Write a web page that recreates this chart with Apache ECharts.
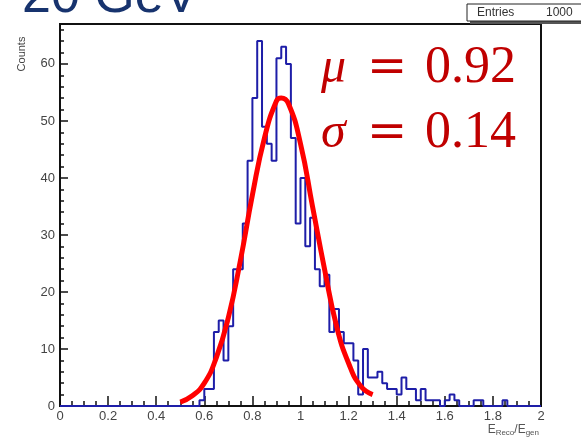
<!DOCTYPE html>
<html>
<head>
<meta charset="utf-8">
<script src="https://cdn.jsdelivr.net/npm/echarts@6/dist/echarts.min.js"></script>
<style>
    html, body { margin: 0; padding: 0; background: #fff; }
    #chart { width: 581px; height: 442px; }
</style>
</head>
<body>
<div id="chart"></div>
<script>
// 直方图: 第一个 bin 从 0.58 开始, bin 宽 0.02
const binStart = 0.58;
const binWidth = 0.02;
const binCounts = [
    1, 3, 3, 13, 15, 8, 14, 24, 24, 32,      // 0.58 - 0.76
    43, 54, 64, 49, 46, 43, 61, 63, 60, 47,  // 0.78 - 0.96
    32, 40, 28, 33, 24, 21, 23, 13, 17, 13,  // 0.98 - 1.16
    11, 11, 8, 2, 10, 5, 5, 6, 4, 3,         // 1.18 - 1.36
    3, 2, 5, 3, 3, 1, 3, 1, 1, 1,            // 1.38 - 1.56
    0, 1, 2, 1, 0, 0, 0, 1, 1, 0,            // 1.58 - 1.76
    0, 0, 0, 1, 0                            // 1.78 - 1.86
];

// 红色拟合曲线 (从图上读出的点)
const fitX = [0.50, 0.55, 0.60, 0.65, 0.70, 0.75, 0.80, 0.85, 0.90, 0.92, 0.95, 1.00, 1.05, 1.10, 1.15, 1.20, 1.25, 1.30];
const fitY = [0.7, 1.8, 4, 8.5, 15.5, 25.5, 37, 47, 53.5, 54, 53, 46, 35, 24, 14, 7.5, 3.5, 2];

const fitMean = '0.92';
const fitSigma = '0.14';
const entries = 1000;

document.addEventListener('DOMContentLoaded', () => {
    const chart = echarts.init(document.getElementById('chart'), null, { renderer: 'canvas' });

    // 阶梯线的点: 每个 bin 的左边缘
    const histData = [[0, 0]];
    binCounts.forEach((c, i) => histData.push([binStart + i * binWidth, c]));
    histData.push([binStart + binCounts.length * binWidth, 0]);
    histData.push([2, 0]);

    const fitData = fitX.map((x, i) => [x, fitY[i]]);

    const labelStyle = {
        color: '#444',
        fontFamily: 'Liberation Sans',
        fontSize: 13
    };

    const option = {
        animation: false,
        backgroundColor: '#fff',
        grid: {
            left: 60,
            right: 40,
            top: 24,
            bottom: 36,
            show: true,
            borderColor: '#111',
            borderWidth: 2
        },
        xAxis: {
            type: 'value',
            min: 0,
            max: 2,
            interval: 0.2,
            axisLine: { lineStyle: { color: '#111', width: 2 } },
            axisTick: { inside: true, length: 10, lineStyle: { color: '#111', width: 1.5 } },
            minorTick: { show: true, splitNumber: 4, length: 5, lineStyle: { color: '#111', width: 1.5 } },
            splitLine: { show: false },
            axisLabel: Object.assign({ margin: 4 }, labelStyle)
        },
        yAxis: {
            type: 'value',
            min: 0,
            max: 67,
            interval: 10,
            axisLine: { lineStyle: { color: '#111', width: 2 } },
            axisTick: { inside: true, length: 8, lineStyle: { color: '#111', width: 1.5 } },
            minorTick: { show: true, splitNumber: 5, length: 4, lineStyle: { color: '#111', width: 1.5 } },
            splitLine: { show: false },
            axisLabel: Object.assign({
                margin: 5,
                showMaxLabel: false,
                formatter: v => (v % 10 === 0 ? String(v) : '')
            }, labelStyle)
        },
        series: [
            {
                name: 'hist',
                type: 'line',
                step: 'end',
                symbol: 'none',
                data: histData,
                lineStyle: { color: '#1e1ea8', width: 2 },
                z: 2
            },
            {
                name: 'fit',
                type: 'line',
                smooth: true,
                symbol: 'none',
                data: fitData,
                lineStyle: { color: '#ff0000', width: 5 },
                z: 3
            }
        ],
        graphic: [
            // 标题 (上半部分被裁掉)
            {
                type: 'text',
                left: 22,
                top: -28,
                style: {
                    text: '20 GeV',
                    fill: '#17336e',
                    font: '52px "Liberation Sans"'
                }
            },
            // 统计框
            {
                type: 'rect',
                shape: { x: 470, y: 7, width: 130, height: 17 },
                style: { fill: '#555' }
            },
            {
                type: 'rect',
                shape: { x: 467, y: 4, width: 130, height: 17 },
                style: { fill: '#fff', stroke: '#222', lineWidth: 1 }
            },
            {
                type: 'text',
                x: 477, y: 13,
                style: { text: 'Entries', fill: '#333', font: '12px "Liberation Sans"', verticalAlign: 'middle' }
            },
            {
                type: 'text',
                x: 546, y: 13,
                style: { text: String(entries), fill: '#333', font: '12px "Liberation Sans"', verticalAlign: 'middle' }
            },
            // y 轴标题
            {
                type: 'text',
                x: 22, y: 54,
                rotation: Math.PI / 2,
                style: {
                    text: 'Counts', fill: '#444', font: '11px "Liberation Sans"',
                    align: 'center', verticalAlign: 'middle'
                }
            },
            // x 轴标题
            {
                type: 'text',
                right: 42,
                top: 424,
                style: {
                    text: 'E{s|Reco}/E{s|gen}',
                    fill: '#555',
                    font: '12px "Liberation Sans"',
                    rich: {
                        s: { fontSize: 8, fill: '#555', padding: [6, 0, 0, 0] }
                    }
                }
            },
            // 拟合参数
            {
                type: 'text',
                x: 321, y: 94,
                style: { text: 'μ', fill: '#c00000', font: 'italic 50px "Liberation Serif"', verticalAlign: 'bottom' }
            },
            {
                type: 'text',
                x: 367, y: 94,
                style: { text: '=', fill: '#c00000', font: '48px "DejaVu Serif"', verticalAlign: 'bottom' }
            },
            {
                type: 'text',
                x: 425, y: 94,
                style: { text: fitMean, fill: '#c00000', font: '52px "Liberation Serif"', verticalAlign: 'bottom' }
            },
            {
                type: 'text',
                x: 321, y: 159,
                style: { text: 'σ', fill: '#c00000', font: 'italic 50px "Liberation Serif"', verticalAlign: 'bottom' }
            },
            {
                type: 'text',
                x: 367, y: 159,
                style: { text: '=', fill: '#c00000', font: '48px "DejaVu Serif"', verticalAlign: 'bottom' }
            },
            {
                type: 'text',
                x: 425, y: 159,
                style: { text: fitSigma, fill: '#c00000', font: '52px "Liberation Serif"', verticalAlign: 'bottom' }
            }
        ]
    };

    chart.setOption(option);
    window.addEventListener('resize', () => chart.resize());
});
</script>
</body>
</html>
